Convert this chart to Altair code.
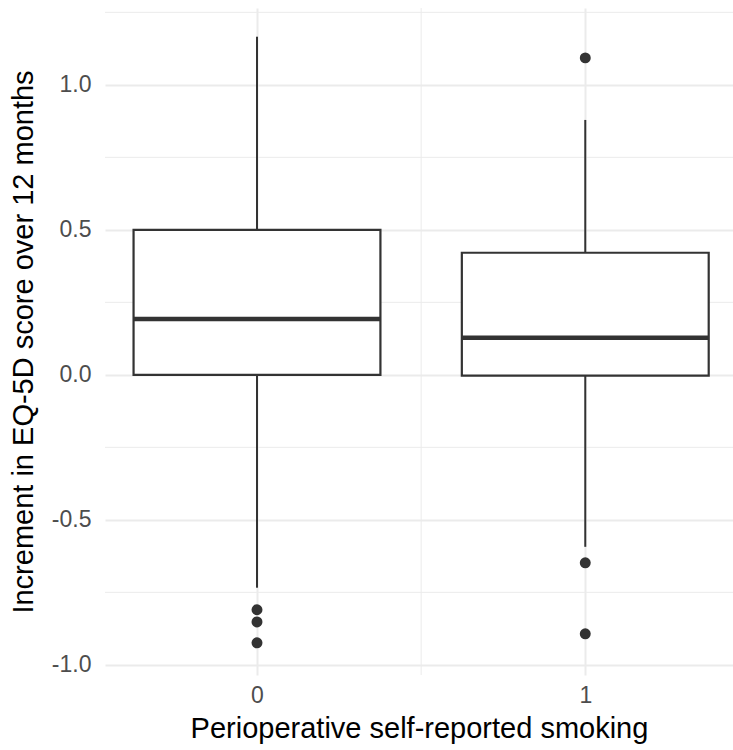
import altair as alt
import pandas as pd

# Box statistics
groups = [0, 1]
q1 = [0.0, -0.003]
q3 = [0.5, 0.421]
medians = [0.193, 0.128]
whisker_lo = [-0.734, -0.593]
whisker_hi = [1.166, 0.879]

# Outliers
out_group = [0, 0, 0, 1, 1, 1]
out_value = [-0.810, -0.852, -0.924, 1.093, -0.648, -0.893]

# Tick values / grid
x_ticks = [0, 1]
y_ticks = [-1.0, -0.5, 0.0, 0.5, 1.0]
minor_y = [-0.75, -0.25, 0.25, 0.75, 1.25]
minor_x = [0.5]

HALF_W = 0.376
FONT = "Liberation Sans"
INK = "#333333"
GRID = "#ebebeb"

boxes = pd.DataFrame({"g": groups, "q1": q1, "q3": q3, "med": medians,
                      "lo": whisker_lo, "hi": whisker_hi})
outs = pd.DataFrame({"g": out_group, "v": out_value})
mgy = pd.DataFrame({"y": minor_y})
mgx = pd.DataFrame({"x": minor_x})

xs = alt.Scale(domain=[-0.463, 1.45], nice=False, zero=False)
ys = alt.Scale(domain=[-1.035, 1.265], nice=False, zero=False)

x_axis = alt.Axis(values=x_ticks, title="Perioperative self-reported smoking",
                  format="d", grid=True, gridColor=GRID, gridWidth=2, ticks=False,
                  domain=False, labelFont=FONT, labelFontSize=23, labelColor="#4d4d4d",
                  labelPadding=9, titleFont=FONT, titleFontSize=29,
                  titleFontWeight="normal", titleColor="#000000", titlePadding=7)
y_axis = alt.Axis(values=y_ticks, title="Increment in EQ-5D score over 12 months",
                  labelExpr="replace(format(datum.value, '.1f'), '\u2212', '-')",
                  grid=True, gridColor=GRID, gridWidth=2, ticks=False,
                  domain=False, labelFont=FONT, labelFontSize=23, labelColor="#4d4d4d",
                  labelPadding=14, titleFont=FONT, titleFontSize=29,
                  titleFontWeight="normal", titleColor="#000000", titlePadding=13)

minor_h = alt.Chart(mgy).mark_rule(color=GRID, strokeWidth=1).encode(
    y=alt.Y("y:Q", scale=ys, axis=y_axis))
minor_v = alt.Chart(mgx).mark_rule(color=GRID, strokeWidth=1).encode(
    x=alt.X("x:Q", scale=xs, axis=x_axis))

base = alt.Chart(boxes).transform_calculate(
    xl=f"datum.g - {HALF_W}", xr=f"datum.g + {HALF_W}")

whisk_up = base.mark_rule(color=INK, strokeWidth=2).encode(
    x=alt.X("g:Q", scale=xs), y=alt.Y("q3:Q", scale=ys), y2="hi:Q")
whisk_dn = base.mark_rule(color=INK, strokeWidth=2).encode(
    x=alt.X("g:Q", scale=xs), y=alt.Y("lo:Q", scale=ys), y2="q1:Q")
box = base.mark_rect(fill="white", stroke=INK, strokeWidth=2.2).encode(
    x=alt.X("xl:Q", scale=xs), x2="xr:Q",
    y=alt.Y("q1:Q", scale=ys), y2="q3:Q")
med = base.mark_rule(color=INK, strokeWidth=4.5).encode(
    x=alt.X("xl:Q", scale=xs), x2="xr:Q", y=alt.Y("med:Q", scale=ys))
pts = alt.Chart(outs).mark_circle(color=INK, opacity=1, size=120).encode(
    x=alt.X("g:Q", scale=xs), y=alt.Y("v:Q", scale=ys))

chart = alt.layer(minor_h, minor_v, whisk_up, whisk_dn, box, med, pts).properties(
    width=628, height=667,
    padding={"left": 105, "top": 8, "right": 0, "bottom": 75},
    autosize=alt.AutoSizeParams(type="none"),
    background="white",
).configure_view(stroke=None)

chart.save("out.html", embed_options={"renderer": "svg", "actions": False})
